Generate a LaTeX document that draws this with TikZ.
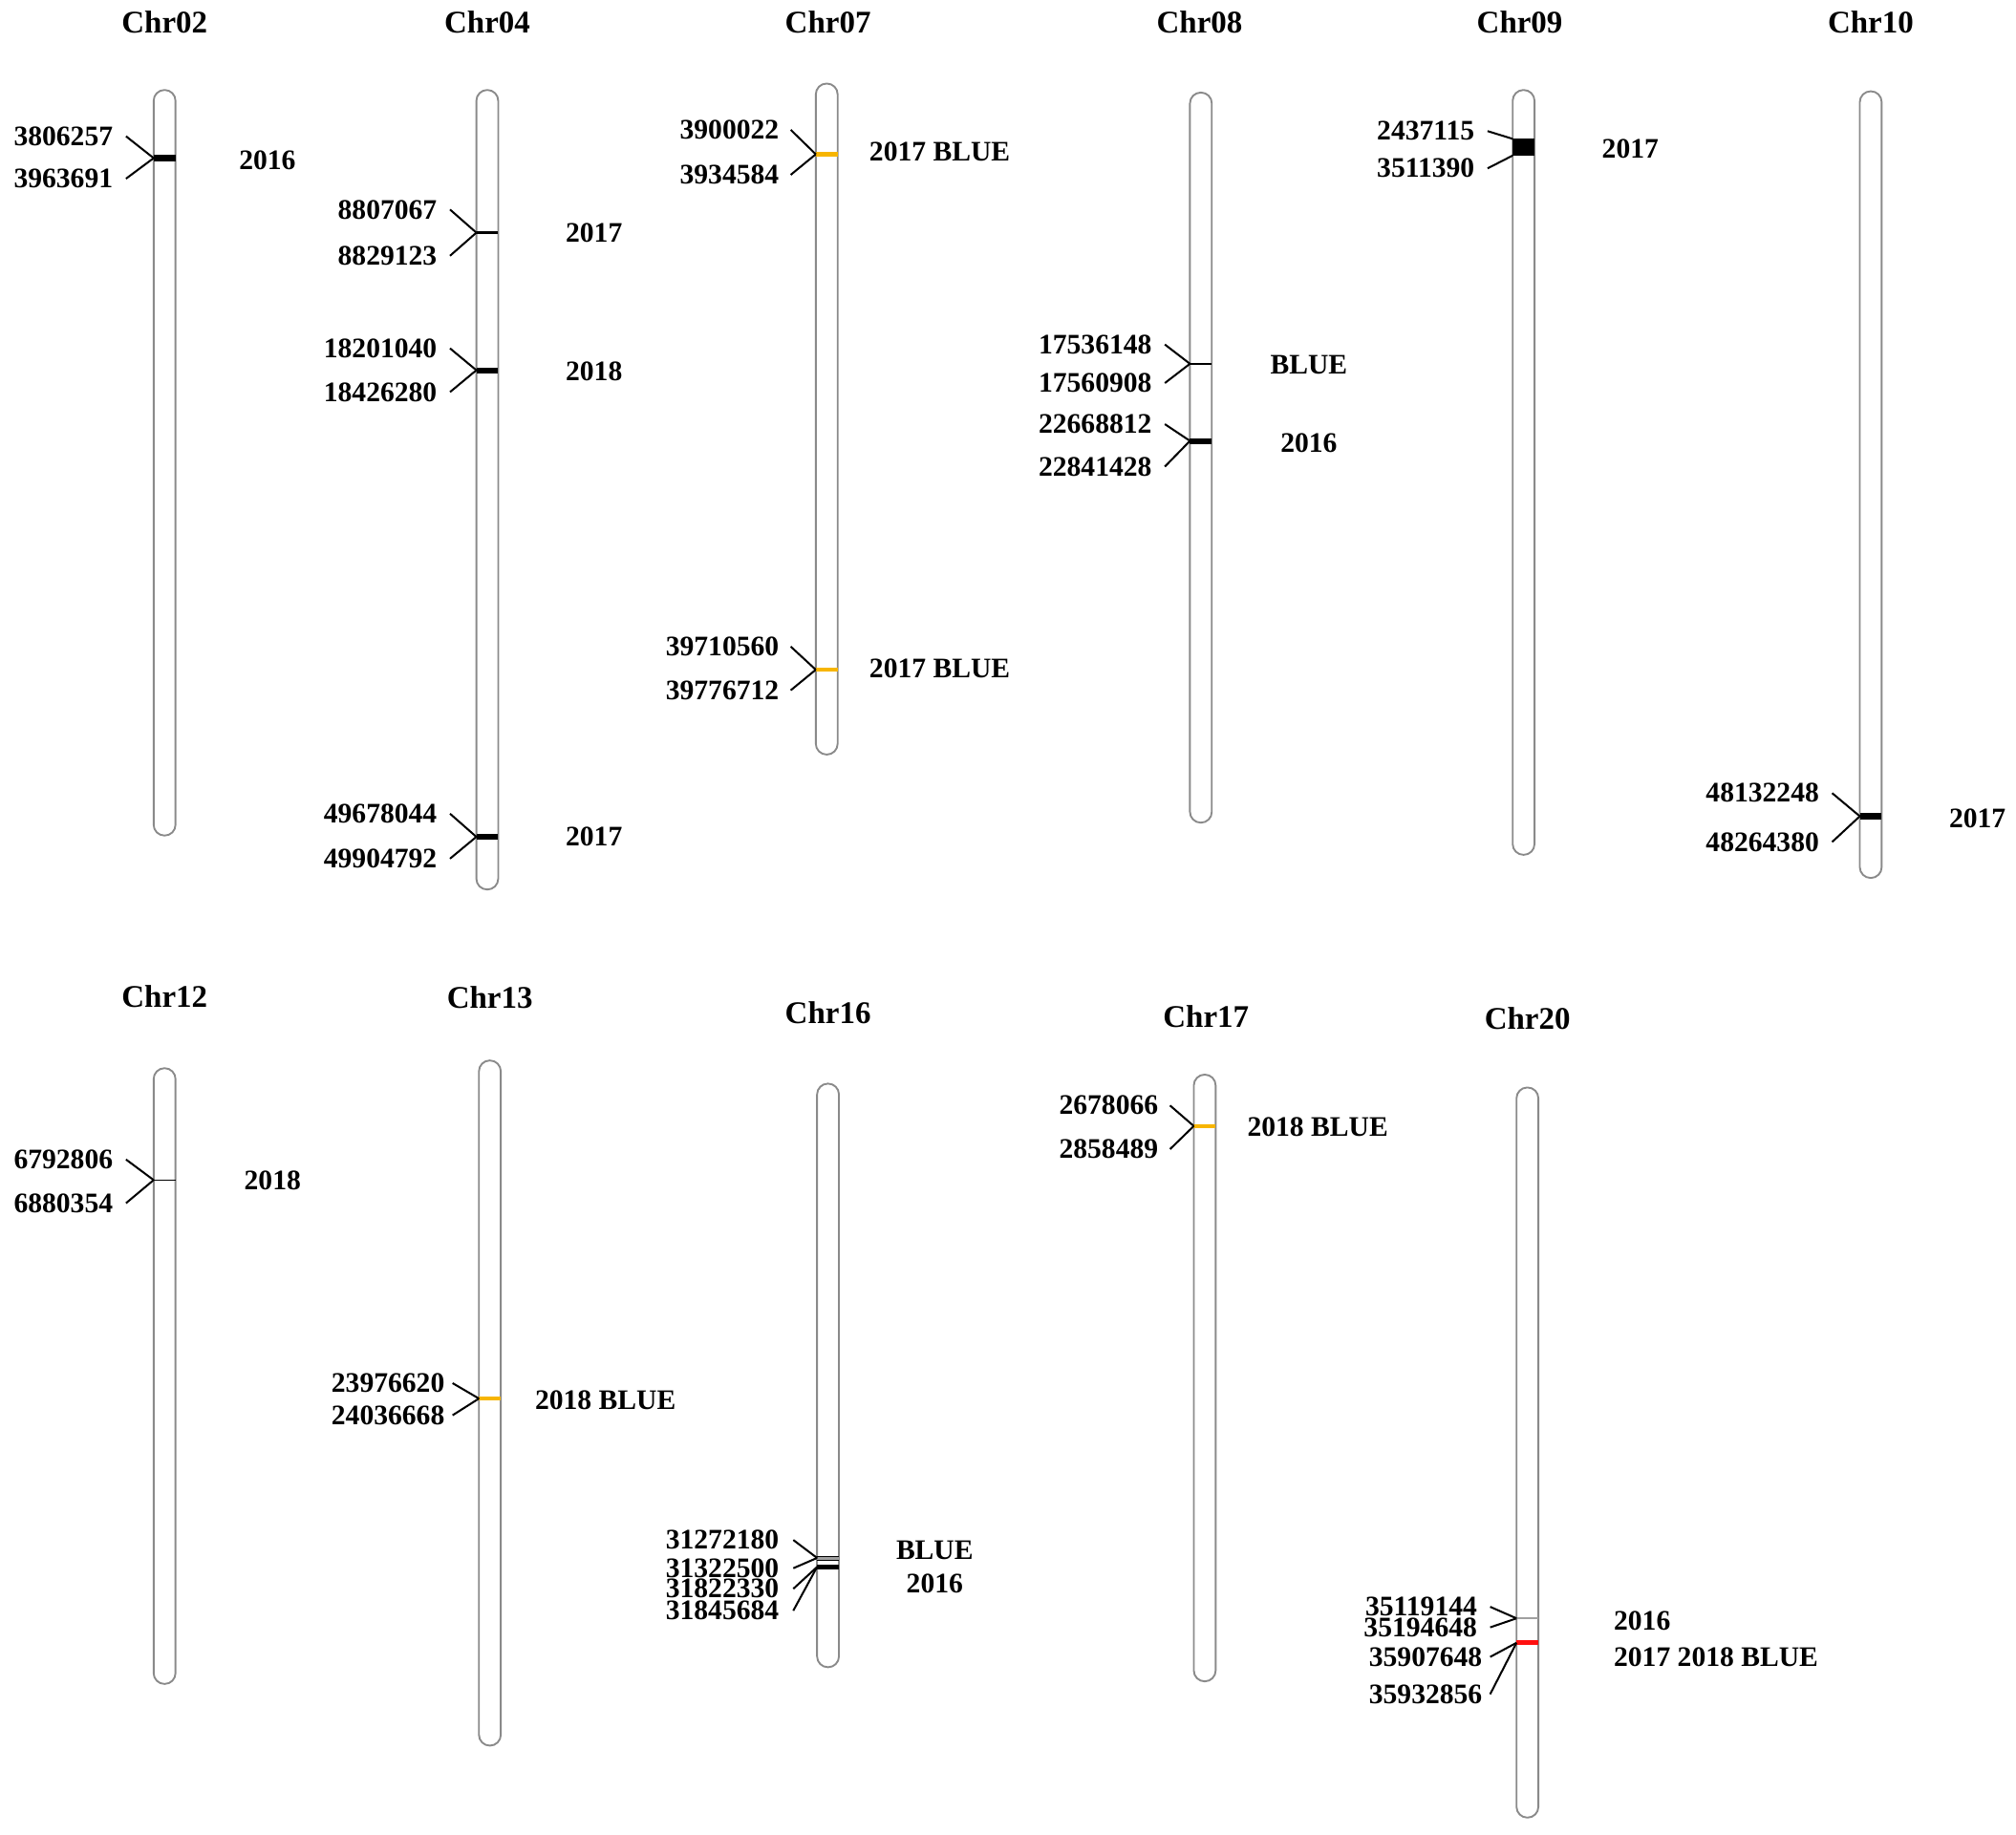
\documentclass[tikz,border=0pt]{standalone}
\usepackage{fontspec}
\setmainfont{Liberation Serif}
\definecolor{bargray}{HTML}{8A8A8A}
\definecolor{amber}{HTML}{F7B500}
\definecolor{mkred}{HTML}{FF1010}
\definecolor{mkgray}{HTML}{A0A0A0}
\begin{document}
\begin{tikzpicture}[x=1pt,y=-1pt,
  chrom/.style={draw=bargray, line width=1.4pt, rounded corners=8.4pt, minimum width=17pt, inner sep=0pt, outer sep=0pt, anchor=north},
  chrtitle/.style={font=\fontsize{24.5}{28}\selectfont\bfseries, inner sep=0pt},
  poslab/.style={font=\fontsize{22}{24}\selectfont\bfseries, inner sep=0pt, anchor=east},
  taglab/.style={font=\fontsize{22}{24}\selectfont\bfseries, inner sep=0pt},
  taglabl/.style={taglab, anchor=west},
  lead/.style={line width=1.5pt, black},
  mk/.style={line width=#1, black},
  mko/.style={line width=#1, amber},
  mkr/.style={line width=#1, mkred},
  mkg/.style={line width=#1, mkgray}
]
\useasboundingbox (0,0) rectangle (1568,1427);

% ---------------- Row 1 ----------------
\node[chrtitle] (t02) at (128,17) {Chr02};
\node[chrtitle] (t04) at (379,17) {Chr04};
\node[chrtitle] (t07) at (644,17) {Chr07};
\node[chrtitle] (t08) at (933,17) {Chr08};
\node[chrtitle] (t09) at (1182,17) {Chr09};
\node[chrtitle] (t10) at (1455,17) {Chr10};

\node[chrom, minimum height=580pt] (b02) at (128,70) {};
\node[chrom, minimum height=622pt] (b04) at (379,70) {};
\node[chrom, minimum height=522pt] (b07) at (643,65) {};
\node[chrom, minimum height=568pt] (b08) at (934,72) {};
\node[chrom, minimum height=595pt] (b09) at (1185,70) {};
\node[chrom, minimum height=612pt] (b10) at (1455,71) {};

% Chr02
\coordinate (m02a) at (b02.west |- 0,123);
\draw[mk=4.5pt] (m02a) -- (b02.east |- 0,123);
\node[poslab] (p02a) at (88,106) {3806257};
\node[poslab] (p02b) at (88,139) {3963691};
\draw[lead] ([xshift=10pt]p02a.east) -- (m02a);
\draw[lead] ([xshift=10pt]p02b.east) -- (m02a);
\node[taglab] (g02a) at (208,125) {2016};

% Chr04
\coordinate (m04a) at (b04.west |- 0,181);
\draw[mk=2pt] (m04a) -- (b04.east |- 0,181);
\node[poslab] (p04a) at (340,163) {8807067};
\node[poslab] (p04b) at (340,199) {8829123};
\draw[lead] ([xshift=10pt]p04a.east) -- (m04a);
\draw[lead] ([xshift=10pt]p04b.east) -- (m04a);
\node[taglab] (g04a) at (462,181) {2017};

\coordinate (m04b) at (b04.west |- 0,288);
\draw[mk=4.5pt] (m04b) -- (b04.east |- 0,288);
\node[poslab] (p04c) at (340,271) {18201040};
\node[poslab] (p04d) at (340,305) {18426280};
\draw[lead] ([xshift=10pt]p04c.east) -- (m04b);
\draw[lead] ([xshift=10pt]p04d.east) -- (m04b);
\node[taglab] (g04b) at (462,289) {2018};

\coordinate (m04c) at (b04.west |- 0,651);
\draw[mk=4.5pt] (m04c) -- (b04.east |- 0,651);
\node[poslab] (p04e) at (340,633) {49678044};
\node[poslab] (p04f) at (340,668) {49904792};
\draw[lead] ([xshift=10pt]p04e.east) -- (m04c);
\draw[lead] ([xshift=10pt]p04f.east) -- (m04c);
\node[taglab] (g04c) at (462,651) {2017};

% Chr07
\coordinate (m07a) at (b07.west |- 0,120);
\draw[mko=3pt] (m07a) -- (b07.east |- 0,120);
\node[poslab] (p07a) at (606,101) {3900022};
\node[poslab] (p07b) at (606,136) {3934584};
\draw[lead] ([xshift=9pt]p07a.east) -- (m07a);
\draw[lead] ([xshift=9pt]p07b.east) -- (m07a);
\node[taglabl] (g07a) at (676,118) {2017 BLUE};

\coordinate (m07b) at (b07.west |- 0,521);
\draw[mko=3pt] (m07b) -- (b07.east |- 0,521);
\node[poslab] (p07c) at (606,503) {39710560};
\node[poslab] (p07d) at (606,537) {39776712};
\draw[lead] ([xshift=9pt]p07c.east) -- (m07b);
\draw[lead] ([xshift=9pt]p07d.east) -- (m07b);
\node[taglabl] (g07b) at (676,520) {2017 BLUE};

% Chr08
\coordinate (m08a) at (b08.west |- 0,283);
\draw[mk=1.8pt] (m08a) -- (b08.east |- 0,283);
\node[poslab] (p08a) at (896,268) {17536148};
\node[poslab] (p08b) at (896,298) {17560908};
\draw[lead] ([xshift=10pt]p08a.east) -- (m08a);
\draw[lead] ([xshift=10pt]p08b.east) -- (m08a);
\node[taglab] (g08a) at (1018,284) {BLUE};

\coordinate (m08b) at (b08.west |- 0,343);
\draw[mk=4.5pt] (m08b) -- (b08.east |- 0,343);
\node[poslab] (p08c) at (896,330) {22668812};
\node[poslab] (p08d) at (896,363) {22841428};
\draw[lead] ([xshift=10pt]p08c.east) -- (m08b);
\draw[lead] ([xshift=10pt]p08d.east) -- (m08b);
\node[taglab] (g08b) at (1018,345) {2016};

% Chr09
\coordinate (m09a) at (b09.west |- 0,108);
\coordinate (m09b) at (b09.west |- 0,121);
\fill[black] (m09a) rectangle (b09.east |- 0,121);
\node[poslab] (p09a) at (1147,102) {2437115};
\node[poslab] (p09b) at (1147,131) {3511390};
\draw[lead] ([xshift=10pt]p09a.east) -- (m09a);
\draw[lead] ([xshift=10pt]p09b.east) -- (m09b);
\node[taglab] (g09a) at (1268,116) {2017};

% Chr10
\coordinate (m10a) at (b10.west |- 0,635);
\draw[mk=4.5pt] (m10a) -- (b10.east |- 0,635);
\node[poslab] (p10a) at (1415,617) {48132248};
\node[poslab] (p10b) at (1415,655) {48264380};
\draw[lead] ([xshift=10pt]p10a.east) -- (m10a);
\draw[lead] ([xshift=10pt]p10b.east) -- (m10a);
\node[taglab] (g10a) at (1538,637) {2017};

% ---------------- Row 2 ----------------
\node[chrtitle] (t12) at (128,775) {Chr12};
\node[chrtitle] (t13) at (381,776) {Chr13};
\node[chrtitle] (t16) at (644,788) {Chr16};
\node[chrtitle] (t17) at (938,791) {Chr17};
\node[chrtitle] (t20) at (1188,792) {Chr20};

\node[chrom, minimum height=479pt] (b12) at (128,831) {};
\node[chrom, minimum height=533pt] (b13) at (381,825) {};
\node[chrom, minimum height=454pt] (b16) at (644,843) {};
\node[chrom, minimum height=472pt] (b17) at (937,836) {};
\node[chrom, minimum height=568pt] (b20) at (1188,846) {};

% Chr12
\coordinate (m12a) at (b12.west |- 0,918);
\draw[mk=1pt] (m12a) -- (b12.east |- 0,918);
\node[poslab] (p12a) at (88,902) {6792806};
\node[poslab] (p12b) at (88,936) {6880354};
\draw[lead] ([xshift=10pt]p12a.east) -- (m12a);
\draw[lead] ([xshift=10pt]p12b.east) -- (m12a);
\node[taglab] (g12a) at (212,918) {2018};

% Chr13
\coordinate (m13a) at (b13.west |- 0,1088);
\draw[mko=3pt] (m13a) -- (b13.east |- 0,1088);
\node[poslab] (p13a) at (346,1076) {23976620};
\node[poslab] (p13b) at (346,1101) {24036668};
\draw[lead] ([xshift=6pt]p13a.east) -- (m13a);
\draw[lead] ([xshift=6pt]p13b.east) -- (m13a);
\node[taglabl] (g13a) at (416,1089) {2018 BLUE};

% Chr16
\coordinate (m16a) at (b16.west |- 0,1212);
\coordinate (m16b) at (b16.west |- 0,1219);
\draw[mkg=3pt] (m16a) -- (b16.east |- 0,1212);
\draw[black, line width=0.6pt] (b16.west |- 0,1210.5) -- (b16.east |- 0,1210.5);
\draw[black, line width=0.6pt] (b16.west |- 0,1213.5) -- (b16.east |- 0,1213.5);
\draw[mk=4pt] (m16b) -- (b16.east |- 0,1219);
\node[poslab] (p16a) at (606,1198) {31272180};
\node[poslab] (p16b) at (606,1220) {31322500};
\node[poslab] (p16c) at (606,1236) {31822330};
\node[poslab] (p16d) at (606,1253) {31845684};
\draw[lead] ([xshift=11pt]p16a.east) -- (m16a);
\draw[lead] ([xshift=11pt]p16b.east) -- (m16a);
\draw[lead] ([xshift=11pt]p16c.east) -- (m16b);
\draw[lead] ([xshift=11pt]p16d.east) -- (m16b);
\node[taglab] (g16a) at (727,1206) {BLUE};
\node[taglab] (g16b) at (727,1232) {2016};

% Chr17
\coordinate (m17a) at (b17.west |- 0,876);
\draw[mko=3pt] (m17a) -- (b17.east |- 0,876);
\node[poslab] (p17a) at (901,860) {2678066};
\node[poslab] (p17b) at (901,894) {2858489};
\draw[lead] ([xshift=9pt]p17a.east) -- (m17a);
\draw[lead] ([xshift=9pt]p17b.east) -- (m17a);
\node[taglabl] (g17a) at (970,877) {2018 BLUE};

% Chr20
\coordinate (m20a) at (b20.west |- 0,1259);
\coordinate (m20b) at (b20.west |- 0,1278);
\draw[mkg=1.5pt] (m20a) -- (b20.east |- 0,1259);
\draw[mkr=3.5pt] (m20b) -- (b20.east |- 0,1278);
\node[poslab] (p20a) at (1149,1250) {35119144};
\node[poslab] (p20b) at (1149,1266) {35194648};
\node[poslab] (p20c) at (1153,1289) {35907648};
\node[poslab] (p20d) at (1153,1318) {35932856};
\draw[lead] ([xshift=10pt]p20a.east) -- (m20a);
\draw[lead] ([xshift=10pt]p20b.east) -- (m20a);
\draw[lead] ([xshift=6pt]p20c.east) -- (m20b);
\draw[lead] ([xshift=6pt]p20d.east) -- (m20b);
\node[taglabl] (g20a) at (1255,1261) {2016};
\node[taglabl] (g20b) at (1255,1289) {2017 2018 BLUE};

\end{tikzpicture}
\end{document}
